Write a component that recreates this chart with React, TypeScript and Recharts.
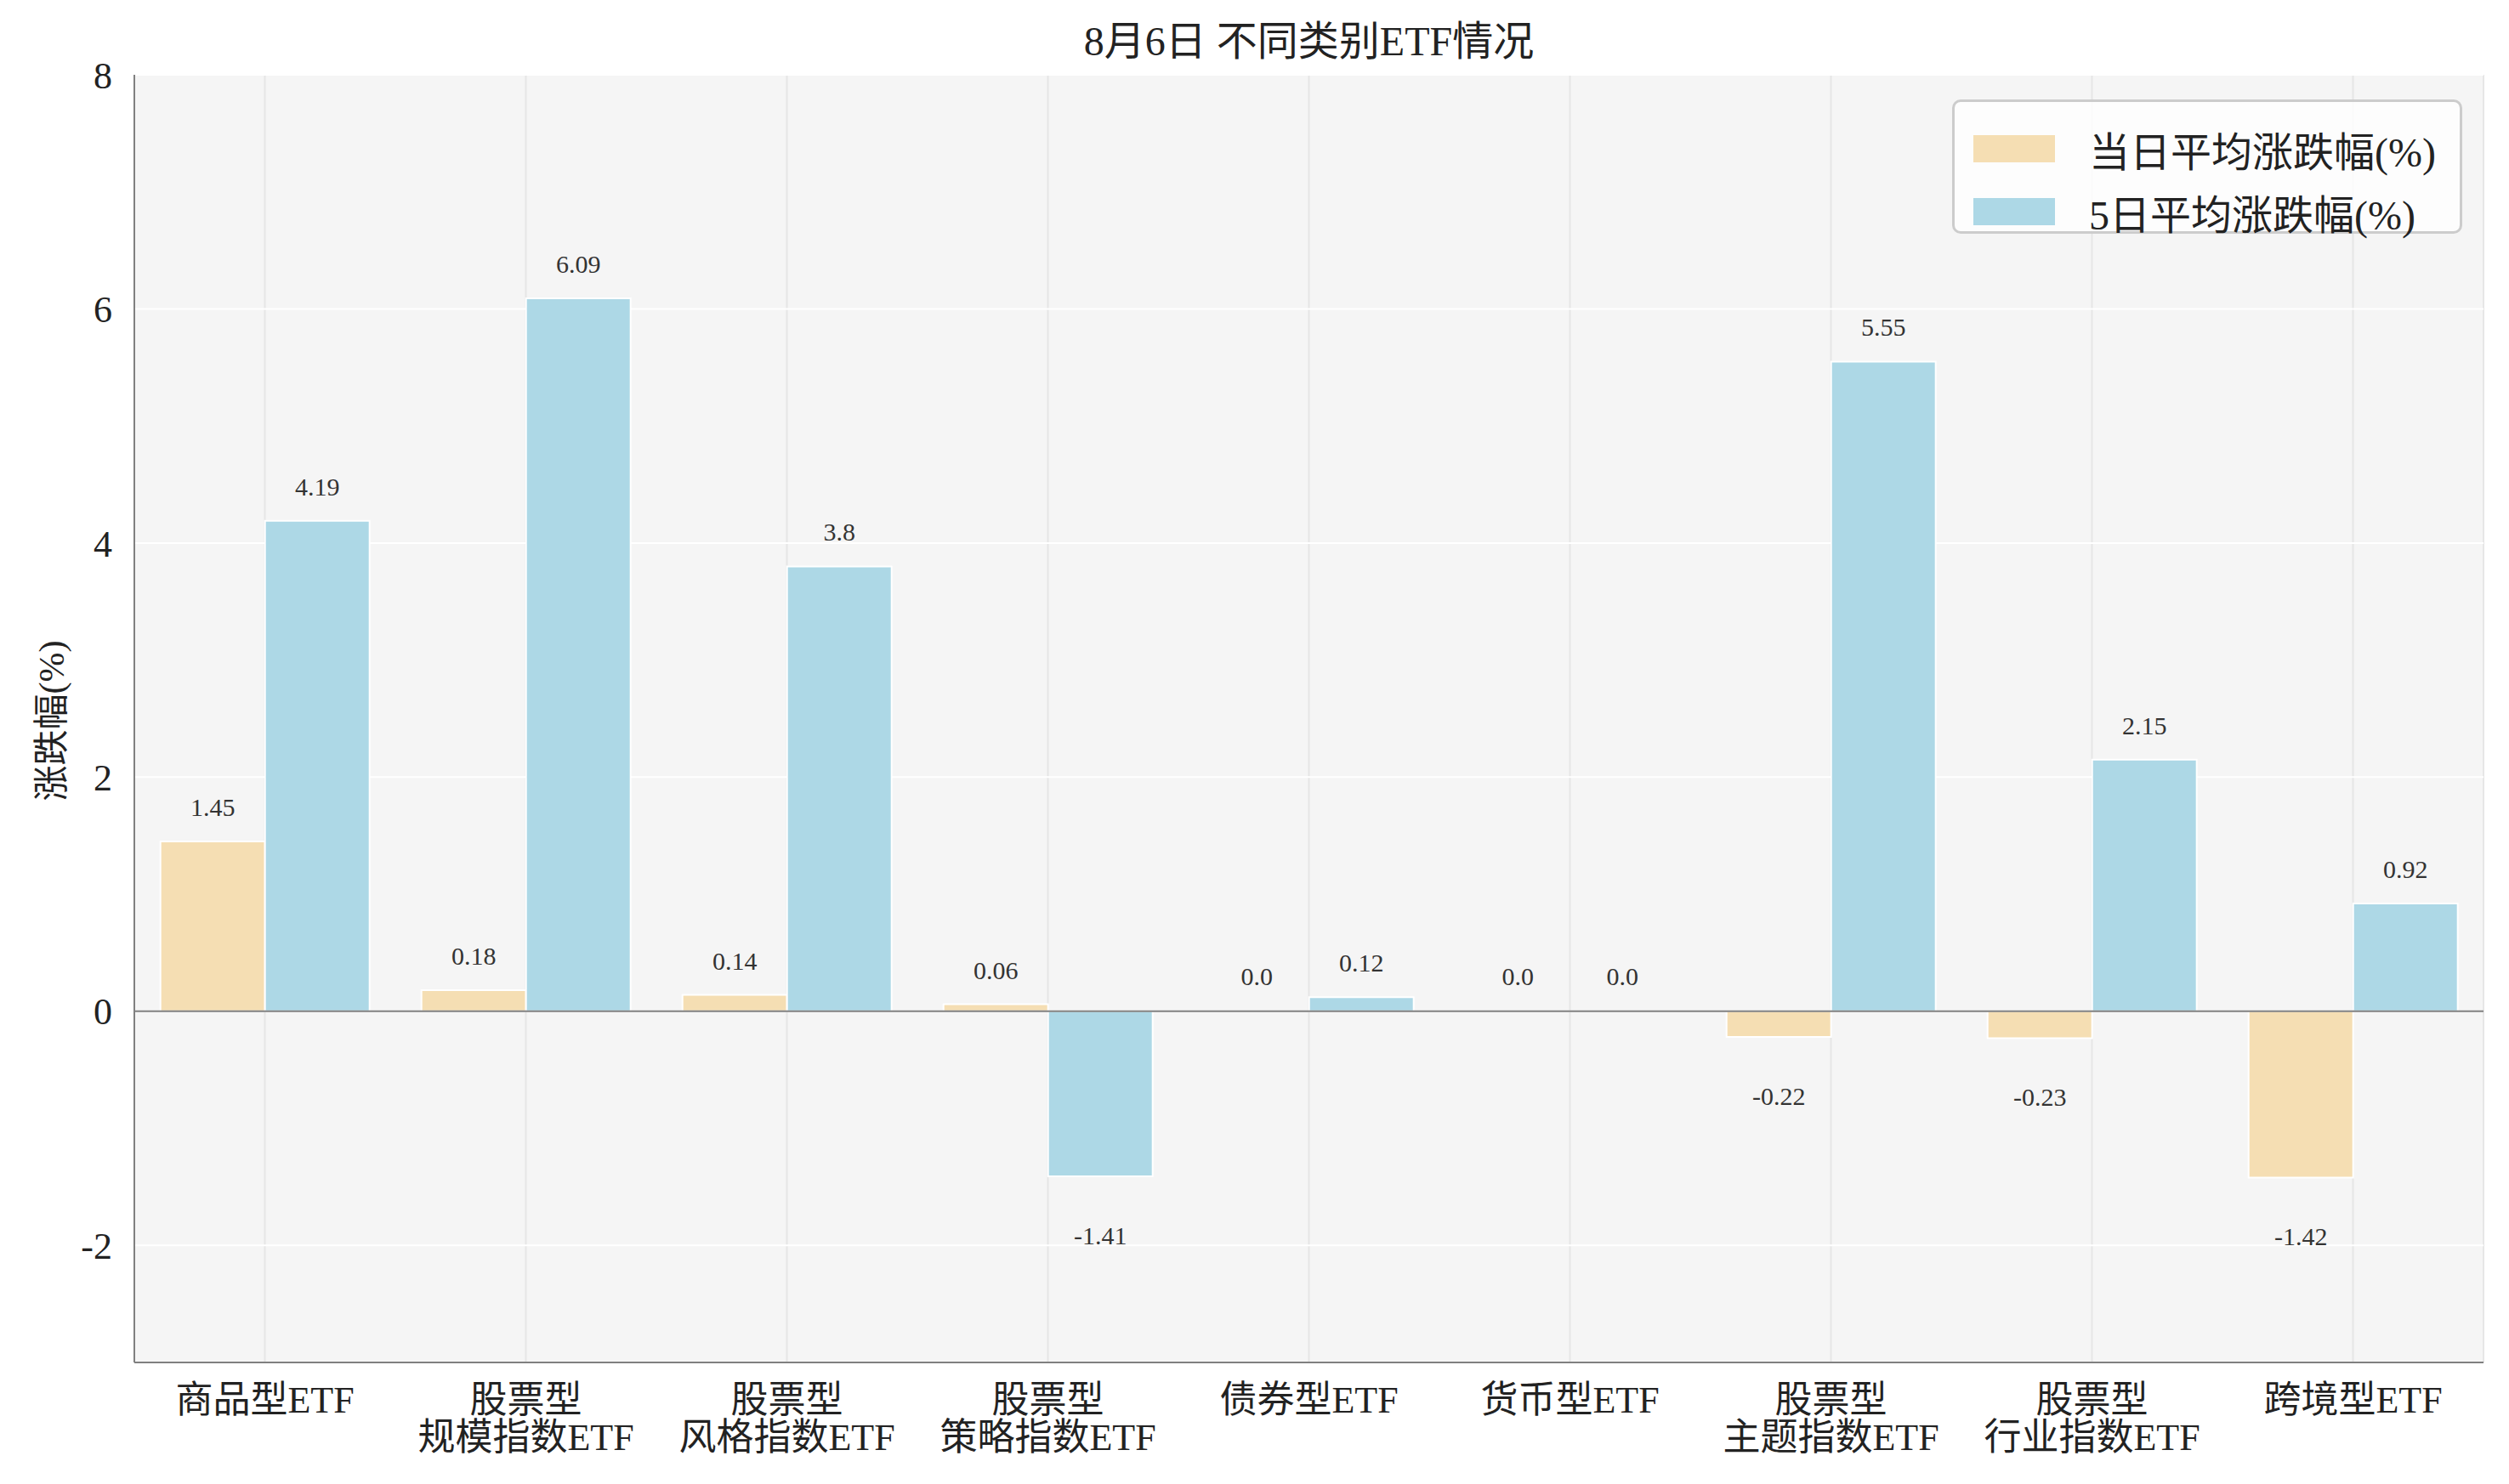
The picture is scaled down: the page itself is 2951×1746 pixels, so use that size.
import React from 'react'
import {
  BarChart,
  Bar,
  XAxis,
  YAxis,
  CartesianGrid,
  ReferenceLine,
  LabelList,
  Rectangle,
} from 'recharts'

const categories = [
  '商品型ETF',
  '股票型\n规模指数ETF',
  '股票型\n风格指数ETF',
  '股票型\n策略指数ETF',
  '债券型ETF',
  '货币型ETF',
  '股票型\n主题指数ETF',
  '股票型\n行业指数ETF',
  '跨境型ETF',
]
const dailyAvg = [1.45, 0.18, 0.14, 0.06, 0.0, 0.0, -0.22, -0.23, -1.42]
const fiveDayAvg = [4.19, 6.09, 3.8, -1.41, 0.12, 0.0, 5.55, 2.15, 0.92]
const yTicks = [-2, 0, 2, 4, 6, 8]

const seriesNames = ['当日平均涨跌幅(%)', '5日平均涨跌幅(%)']
const ORANGE = '#f5deb3'
const BLUE = '#add8e6'
const FONT = "'Liberation Serif', 'Noto Sans CJK SC', serif"

const W = 2951
const H = 1746

const data = categories.map((c, i) => ({
  name: c,
  daily: dailyAvg[i],
  five: fiveDayAvg[i],
}))

// category label, split into lines, top-aligned under the axis
function CategoryTick(props: any) {
  const { x, y, payload } = props
  const lines = String(payload.value).split('\n')
  return (
    <g transform={`translate(${x},${y})`}>
      {lines.map((l, i) => (
        <text
          key={i}
          x={0}
          y={51 + i * 44}
          textAnchor="middle"
          fontSize={44}
          fontFamily={FONT}
          fill="#222"
        >
          {l}
        </text>
      ))}
    </g>
  )
}

function fmt(v: number) {
  const s = String(Math.round(v * 100) / 100)
  return s.includes('.') ? s : s + '.0'
}

function ValueLabel(props: any) {
  const { x, y, width, height, value } = props
  const cx = x + width / 2
  const top = Math.min(y, y + height)
  const bottom = Math.max(y, y + height)
  const ty = value < 0 ? bottom + 80 : top - 30
  return (
    <text
      x={cx}
      y={ty}
      textAnchor="middle"
      fontSize={30}
      fontFamily={FONT}
      fill="#333"
    >
      {fmt(Number(value))}
    </text>
  )
}

function LegendBox() {
  const items = [
    { name: seriesNames[0], color: ORANGE },
    { name: seriesNames[1], color: BLUE },
  ]
  return (
    <div
      style={{
        position: 'absolute',
        left: 2296,
        top: 117,
        width: 600,
        height: 158,
        boxSizing: 'border-box',
        border: '3px solid #cccccc',
        borderRadius: 10,
        background: 'rgba(255,255,255,0.8)',
        padding: '18px 0 0 22px',
        fontFamily: FONT,
      }}
    >
      {items.map((it) => (
        <div key={it.name} style={{ display: 'flex', alignItems: 'center', height: 74 }}>
          <span style={{ width: 96, height: 32, background: it.color, display: 'inline-block' }} />
          <span style={{ marginLeft: 40, fontSize: 48, color: '#222' }}>{it.name}</span>
        </div>
      ))}
    </div>
  )
}

export default function App() {
  return (
    <div style={{ position: 'absolute', left: 0, top: 0, width: W, height: H, background: '#fff' }}>
      <div
        style={{
          position: 'absolute',
          left: 158,
          width: 2763,
          top: 9,
          textAlign: 'center',
          fontSize: 48,
          fontFamily: FONT,
          color: '#222',
        }}
      >
        8月6日 不同类别ETF情况
      </div>
      <div
        style={{
          position: 'absolute',
          left: 56,
          top: 848,
          transform: 'translate(-50%, -50%) rotate(-90deg)',
          fontSize: 42,
          fontFamily: FONT,
          color: '#222',
          whiteSpace: 'nowrap',
        }}
      >
        涨跌幅(%)
      </div>
      <BarChart
        width={W}
        height={H}
        data={data}
        margin={{ top: 88, right: 30, left: 58, bottom: 23 }}
        barCategoryGap="10%"
        barGap={0}
      >
        <CartesianGrid
          fill="#f5f5f5"
          horizontal={false}
          stroke="#e6e6e6"
          strokeWidth={2}
        />
        <CartesianGrid vertical={false} stroke="#ffffff" strokeWidth={2} />
        <XAxis
          dataKey="name"
          interval={0}
          height={120}
          tick={<CategoryTick />}
          tickLine={false}
          axisLine={{ stroke: '#808080', strokeWidth: 2 }}
        />
        <YAxis
          width={100}
          domain={[-3, 8]}
          ticks={yTicks}
          tickLine={false}
          axisLine={{ stroke: '#808080', strokeWidth: 2 }}
          tick={{ fontSize: 44, fontFamily: FONT, fill: '#222' }}
          tickMargin={20}
        />
        <ReferenceLine y={0} stroke="#808080" strokeWidth={2} />
        {/* zero-valued bars get a 1px size so their label is kept, but the bar itself is not drawn */}
        <Bar
          dataKey="daily"
          name={seriesNames[0]}
          fill={ORANGE}
          stroke="#ffffff"
          strokeWidth={2}
          minPointSize={(v: number) => (v === 0 ? 1 : 0)}
          shape={(p: any) => (p.daily === 0 ? <g /> : <Rectangle {...p} />)}
          isAnimationActive={false}
        >
          <LabelList dataKey="daily" content={<ValueLabel />} />
        </Bar>
        <Bar
          dataKey="five"
          name={seriesNames[1]}
          fill={BLUE}
          stroke="#ffffff"
          strokeWidth={2}
          minPointSize={(v: number) => (v === 0 ? 1 : 0)}
          shape={(p: any) => (p.five === 0 ? <g /> : <Rectangle {...p} />)}
          isAnimationActive={false}
        >
          <LabelList dataKey="five" content={<ValueLabel />} />
        </Bar>
      </BarChart>
      <LegendBox />
    </div>
  )
}
